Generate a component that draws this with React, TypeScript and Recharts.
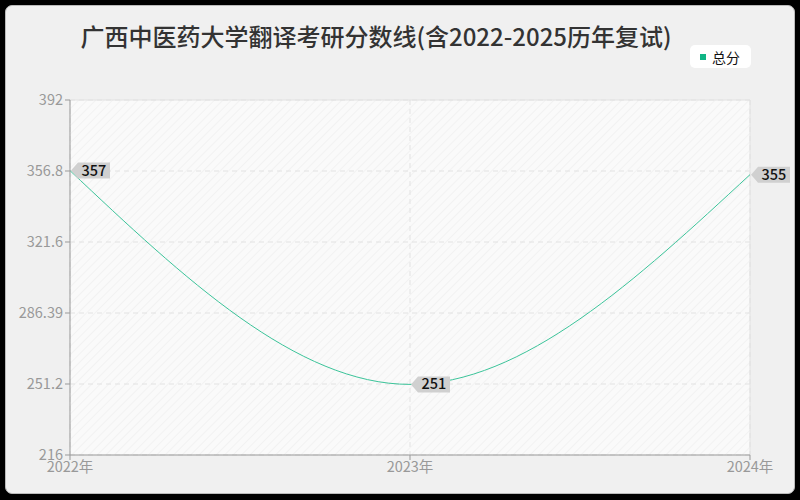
import React from "react";
import { LineChart, Line, XAxis, YAxis, CartesianGrid, LabelList, ReferenceLine } from "recharts";

const years = ["2022年", "2023年", "2024年"];
const totalScores = [357, 251, 355];
const yTicks = [216, 251.2, 286.4, 321.6, 356.8, 392];
const yTickLabels = ["216", "251.2", "286.39", "321.6", "356.8", "392"];

const data = years.map((y, i) => ({ year: y, total: totalScores[i] }));

const FONT = '"Noto Sans CJK SC", "Noto Sans", sans-serif';
const LINE_COLOR = "#3cc49a";

const PointLabel = (props: any) => {
  const { x, y, value } = props;
  if (x == null || y == null) return null;
  const w = 32;
  const h = 16;
  const a = 8;
  const pts = `${x + 1},${y} ${x + a},${y - h / 2} ${x + a + w},${y - h / 2} ${x + a + w},${y + h / 2} ${x + a},${y + h / 2}`;
  return (
    <g>
      <polygon points={pts} fill="#d0d0d0" />
      <text x={x + a + w / 2} y={y + 5} textAnchor="middle" fontSize={14.5} fontWeight={500} fill="#111" fontFamily={FONT}>
        {value}
      </text>
    </g>
  );
};

export default function App() {
  return (
    <div style={{ position: "absolute", left: 0, top: 0, width: 800, height: 500, background: "#000" }}>
      <div
        style={{
          position: "absolute",
          left: 5,
          top: 5,
          width: 790,
          height: 489,
          background: "#f0f0f0",
          border: "1px solid #bbb",
          borderRadius: 7,
          boxSizing: "border-box",
        }}
      />
      <div
        style={{
          position: "absolute",
          left: 0,
          top: 20,
          width: 752,
          textAlign: "center",
          fontFamily: FONT,
          fontSize: 24,
          fontWeight: 500,
          color: "#333",
          lineHeight: "32px",
        }}
      >
        广西中医药大学翻译考研分数线(含2022-2025历年复试)
      </div>
      <div
        style={{
          position: "absolute",
          left: 690,
          top: 45,
          width: 61,
          height: 23,
          background: "#fff",
          borderRadius: 5,
          display: "flex",
          alignItems: "center",
          boxSizing: "border-box",
          paddingLeft: 10,
          fontFamily: FONT,
          fontSize: 14,
          color: "#111",
        }}
      >
        <span style={{ width: 6, height: 6, background: "#10b585", display: "inline-block", marginRight: 6 }} />
        总分
      </div>
      <div style={{ position: "absolute", left: 0, top: 0 }}>
        <LineChart width={800} height={500} data={data} margin={{ top: 100, right: 50, bottom: 0, left: 0 }}>
          <defs>
            <pattern id="hatch" width="6" height="6" patternUnits="userSpaceOnUse" patternTransform="rotate(45)">
              <rect width="6" height="6" fill="#fafafa" />
              <line x1="0" y1="0" x2="0" y2="6" stroke="#f2f2f2" strokeWidth="2" />
            </pattern>
          </defs>
          <CartesianGrid stroke="#e2e2e2" strokeDasharray="5 4" fill="url(#hatch)" />
          <ReferenceLine y={392} stroke="#e2e2e2" />
          <ReferenceLine x="2024年" stroke="#e2e2e2" />
          <XAxis
            dataKey="year"
            height={45}
            tick={{ fill: "#999", fontSize: 14.5, fontFamily: FONT }}
            tickLine={{ stroke: "#999" }}
            axisLine={{ stroke: "#999" }}
            tickSize={5}
            interval={0}
          />
          <YAxis
            width={70}
            domain={[216, 392]}
            ticks={yTicks}
            tickFormatter={(v: number) => yTickLabels[yTicks.indexOf(v)] ?? String(v)}
            tick={{ fill: "#999", fontSize: 14.5, fontFamily: FONT }}
            tickLine={{ stroke: "#999" }}
            axisLine={{ stroke: "#999" }}
            tickSize={5}
            interval={0}
          />
          <Line
            type="monotone"
            dataKey="total"
            name="总分"
            stroke={LINE_COLOR}
            strokeWidth={1}
            dot={false}
            activeDot={false}
            isAnimationActive={false}
          >
            <LabelList dataKey="total" content={PointLabel} />
          </Line>
        </LineChart>
      </div>
    </div>
  );
}
